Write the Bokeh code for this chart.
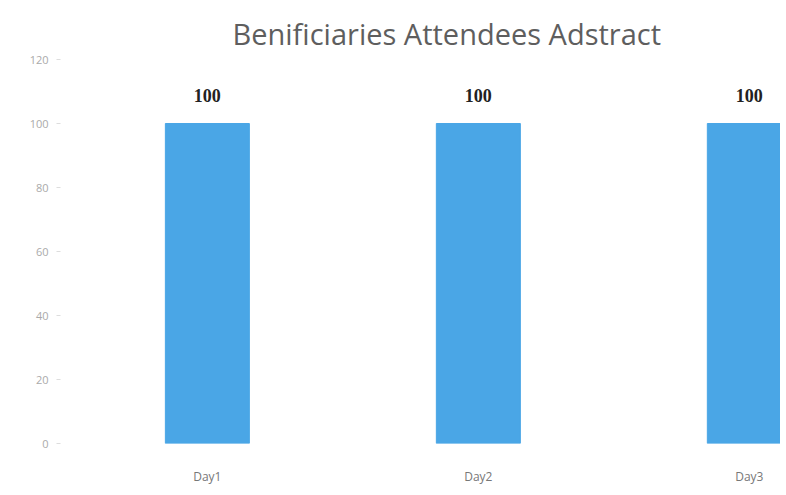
from bokeh.plotting import figure
from bokeh.models import Range1d, FixedTicker, ColumnDataSource, LabelSet, Title
from bokeh.embed import file_html
from bokeh.resources import INLINE

categories = ["Day1", "Day2", "Day3"]
values = [100, 100, 100]
y_ticks = [0, 20, 40, 60, 80, 100, 120]

xs = list(range(len(categories)))
src = ColumnDataSource(dict(x=xs, y=values, lbl=[str(v) for v in values]))

p = figure(width=780, height=490, output_backend="svg", toolbar_location=None,
           x_range=Range1d(-0.542, 2.115), y_range=Range1d(0, 120),
           min_border_left=60, min_border_right=0, min_border_top=59, min_border_bottom=47)
p.title = None
p.add_layout(Title(text="Benificiaries Attendees Adstract", text_font="Open Sans",
                   text_font_size="29px", text_font_style="normal", text_color="#5e5e5e",
                   align="left", offset=172, standoff=13), "above")

p.vbar(x="x", top="y", bottom=0, width=0.31, source=src, color="#4AA6E6")
p.add_layout(LabelSet(x="x", y="y", text="lbl", source=src, text_align="center",
                      text_baseline="bottom", y_offset=22, text_font="Liberation Serif",
                      text_font_size="18px", text_font_style="bold", text_color="#222222"))

p.xaxis.ticker = FixedTicker(ticks=xs)
p.xaxis.major_label_overrides = {i: c for i, c in enumerate(categories)}
p.xaxis.axis_line_color = None
p.xaxis.major_tick_line_color = None
p.xaxis.minor_tick_line_color = None
p.xaxis.major_label_standoff = 18
p.xaxis.major_label_text_color = "#777777"
p.xaxis.major_label_text_font = "Open Sans"
p.xaxis.major_label_text_font_size = "12px"

p.yaxis.ticker = FixedTicker(ticks=y_ticks)
p.yaxis.axis_line_color = None
p.yaxis.major_tick_line_color = "#dddddd"
p.yaxis.major_tick_out = 4
p.yaxis.major_tick_in = 0
p.yaxis.minor_tick_line_color = None
p.yaxis.major_label_standoff = 8
p.yaxis.major_label_text_color = "#aaaaaa"
p.yaxis.major_label_text_font = "Open Sans"
p.yaxis.major_label_text_font_size = "11px"

p.xgrid.grid_line_color = None
p.ygrid.grid_line_color = None
p.outline_line_color = None

open("out.html", "w").write(file_html(p, INLINE))
